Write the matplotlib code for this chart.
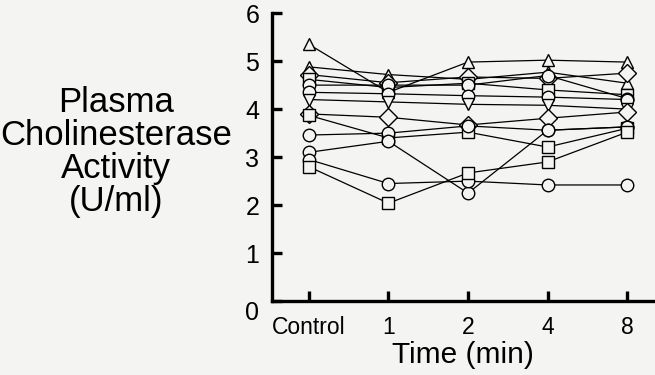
import matplotlib
matplotlib.use("Agg")
import matplotlib.pyplot as plt

plt.rcParams['font.family'] = ['Liberation Sans', 'DejaVu Sans']

# time points (categorical)
time_labels = ["Control", "1", "2", "4", "8"]

# cholinesterase activity (U/ml) per subject
s1 = [5.35, 4.35, 4.98, 5.02, 4.98]
s2 = [4.88, 4.72, 4.62, 4.77, 4.54]
s3 = [4.72, 4.55, 4.67, 4.64, 4.75]
s4 = [4.62, 4.45, 4.54, 4.40, 4.30]
s5 = [4.50, 4.50, 4.50, 4.70, 4.22]
s6 = [4.35, 4.32, 4.28, 4.25, 4.20]
s7 = [4.20, 4.15, 4.10, 4.08, 4.00]
s8 = [3.90, 3.83, 3.67, 3.81, 3.94]
s9 = [3.87, 3.40, 3.52, 3.21, 3.60]
s10 = [3.46, 3.50, 3.65, 3.56, 3.63]
s11 = [3.10, 3.33, 2.25, 3.56, 3.63]
s12 = [2.95, 2.45, 2.50, 2.42, 2.42]
s13 = [2.80, 2.04, 2.67, 2.90, 3.52]

subjects = [s1, s2, s3, s4, s5, s6, s7, s8, s9, s10, s11, s12, s13]
markers = ['^', '^', 'D', 's', 'o', 'o', 'v', 'D', 's', 'o', 'o', 'o', 's']

bg = '#f4f4f2'
fig = plt.figure(figsize=(6.55, 3.75), dpi=100, facecolor=bg)
ax = fig.add_axes([0.415, 0.197, 0.585, 0.768])
ax.set_facecolor(bg)

x = list(range(len(time_labels)))
for vals, m in zip(subjects, markers):
    ax.plot(x, vals, color='black', lw=0.9, marker=m, ms=9,
            mfc=bg, mec='black', mew=1.0, clip_on=False)

ax.set_xlim(-0.465, 4.35)
ax.set_ylim(0, 6)
ax.set_yticks([0, 1, 2, 3, 4, 5, 6])
ax.set_xticks(x)
ax.set_xticklabels(time_labels)

for side in ['top', 'right']:
    ax.spines[side].set_visible(False)
for side in ['left', 'bottom']:
    ax.spines[side].set_linewidth(2.4)

ax.tick_params(axis='y', direction='in', length=7, width=2.4, labelsize=18, pad=9)
ax.tick_params(axis='x', direction='in', length=7, width=2.4, labelsize=16.5, pad=11)
# the zero label sits below the corner in the original
ax.yaxis.get_major_ticks()[0].label1.set_va('top')

ax.set_xlabel('Time (min)', fontsize=21.5, labelpad=1.5)

fig.text(0.177, 0.595, 'Plasma\nCholinesterase\nActivity\n(U/ml)', fontsize=25,
         ha='center', va='center', linespacing=1.0)

fig.savefig('out.png', dpi=100, facecolor=bg)
